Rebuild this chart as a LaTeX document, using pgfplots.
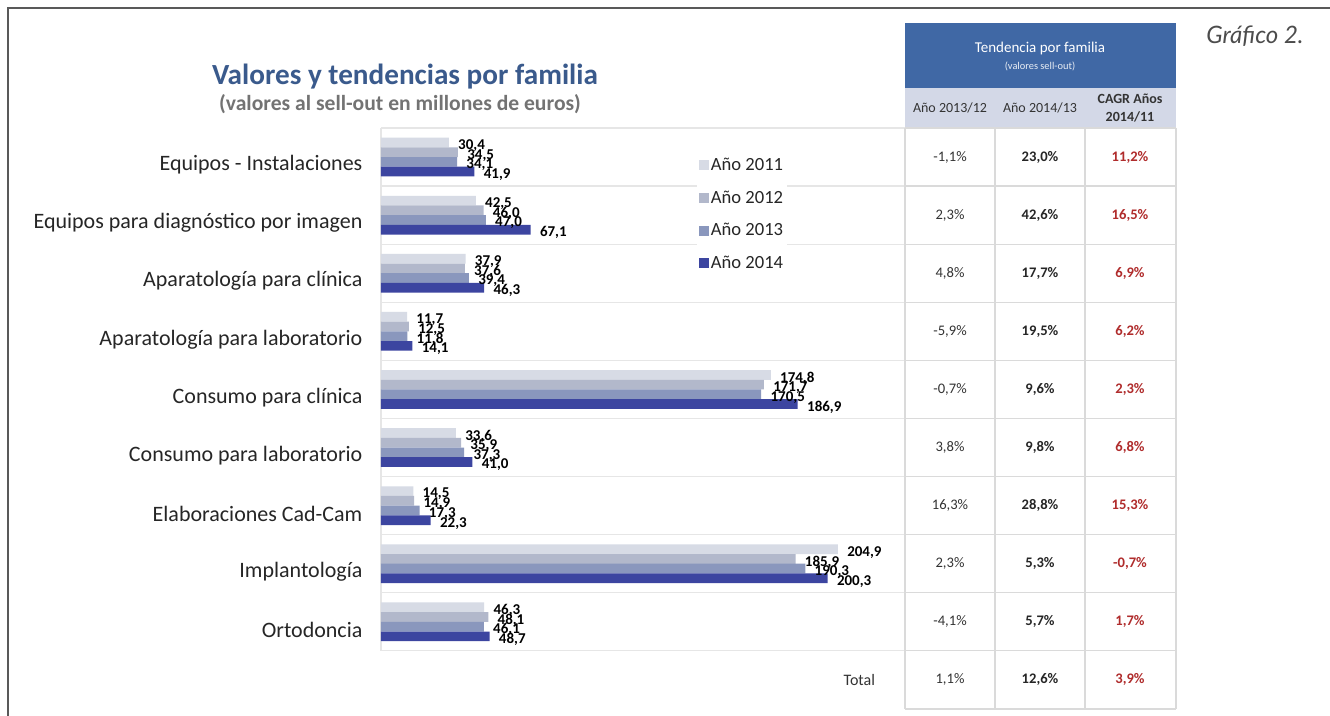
\documentclass[border=0pt]{standalone}
\usepackage{pgfplots}
\pgfplotsset{compat=1.18}
\usepackage{pgfplotstable}
\usepackage{fontspec}
\setmainfont{Carlito}
\newfontfamily\grafont{Lato}
\definecolor{c2011}{HTML}{D7DBE5}
\definecolor{c2012}{HTML}{B2B8CB}
\definecolor{c2013}{HTML}{8A97BD}
\definecolor{c2014}{HTML}{3C45A0}
\definecolor{hdrblue}{HTML}{4068A5}
\definecolor{subhdr}{HTML}{D3D8E7}
\definecolor{ttl}{HTML}{3A5A8C}
\definecolor{cagr}{HTML}{B02C2C}
\definecolor{gridc}{HTML}{DADADA}
\definecolor{sepc}{HTML}{E6E6E6}

\pgfplotstableread{
idx a2011 a2012 a2013 a2014
0 30.4 34.5 34.1 41.9
1 42.5 46.0 47.0 67.1
2 37.9 37.6 39.4 46.3
3 11.7 12.5 11.8 14.1
4 174.8 171.7 170.5 186.9
5 33.6 35.9 37.3 41.0
6 14.5 14.9 17.3 22.3
7 204.9 185.9 190.3 200.3
8 46.3 48.1 46.1 48.7
}\sales

\begin{document}
\begin{tikzpicture}[x=0.5pt,y=-0.5pt]
\useasboundingbox (0,0) rectangle (1330,716);
\fill[white] (0,0) rectangle (1330,716);
% frame
\draw[line width=0.9pt, black!65] (8,716) -- (8,8) -- (1330,8);
% titles
\node[font=\bfseries\fontsize{14.6}{16}\selectfont, text=ttl] at (405,77) {Valores y tendencias por familia};
\node[font=\bfseries\fontsize{10.8}{12}\selectfont, text=black!55] at (400,104) {(valores al sell-out en millones de euros)};
\node[font=\grafont\itshape\fontsize{12}{14}\selectfont, text=black!70] at (1255,36) {Gráfico 2.};
% separators in bar area
\foreach \k in {0,...,9} \draw[sepc, line width=0.6pt] (381,{128+58.1*\k}) -- (905,{128+58.1*\k});
\draw[sepc, line width=0.6pt] (381,128) -- (381,650.9);
% table
\fill[hdrblue] (905,23) rectangle (1176,88);
\fill[subhdr] (905,88) rectangle (1176,128);
\foreach \k in {0,...,10} \draw[gridc, line width=0.6pt] (905,{128+58.1*\k}) -- (1176,{128+58.1*\k});
\foreach \xx in {905,995,1085,1176} \draw[gridc, line width=0.6pt] (\xx,128) -- (\xx,709);
\node[font=\fontsize{7.5}{9}\selectfont, text=white] at (1040,49) {Tendencia por familia};
\node[font=\fontsize{5.2}{6}\selectfont, text=white!88!hdrblue] at (1040,66) {(valores sell-out)};
\node[font=\fontsize{7}{8}\selectfont, text=black!80] at (950,108) {Año 2013/12};
\node[font=\fontsize{7}{8}\selectfont, text=black!80] at (1040,108) {Año 2014/13};
\node[font=\bfseries\fontsize{7}{9}\selectfont, text=black!80, align=center] at (1130,108) {CAGR Años\\2014/11};
\foreach \i/\a/\b/\c in {0/{-1,1\%}/{23,0\%}/{11,2\%},
                          1/{2,3\%}/{42,6\%}/{16,5\%},
                          2/{4,8\%}/{17,7\%}/{6,9\%},
                          3/{-5,9\%}/{19,5\%}/{6,2\%},
                          4/{-0,7\%}/{9,6\%}/{2,3\%},
                          5/{3,8\%}/{9,8\%}/{6,8\%},
                          6/{16,3\%}/{28,8\%}/{15,3\%},
                          7/{2,3\%}/{5,3\%}/{-0,7\%},
                          8/{-4,1\%}/{5,7\%}/{1,7\%},
                          9/{1,1\%}/{12,6\%}/{3,9\%}} {
  \node[font=\fontsize{7.3}{9}\selectfont, text=black!80] at (950,{128+58.1*(\i+0.5)}) {\a};
  \node[font=\bfseries\fontsize{7.3}{9}\selectfont, text=black!85] at (1040,{128+58.1*(\i+0.5)}) {\b};
  \node[font=\bfseries\fontsize{7.3}{9}\selectfont, text=cagr] at (1130,{128+58.1*(\i+0.5)}) {\c};
}
\node[font=\fontsize{8}{9}\selectfont, text=black!80, anchor=east] at (882,680) {Total};
% chart
\begin{axis}[
  at={(190.5pt,-64pt)}, anchor=north west,
  scale only axis, width=262pt, height=261.45pt,
  xbar, bar shift=0pt, bar width=0.167,
  xmin=0, xmax=235, ymin=-0.5, ymax=8.5, y dir=reverse,
  axis line style={draw=none}, major tick style={draw=none},
  xtick=\empty, ytick={0,...,8},
  yticklabels={Equipos - Instalaciones, Equipos para diagnóstico por imagen, Aparatología para clínica, Aparatología para laboratorio, Consumo para clínica, Consumo para laboratorio, Elaboraciones Cad-Cam, Implantología, Ortodoncia},
  yticklabel style={font=\fontsize{11}{12}\selectfont, text=black!85, yshift=-4pt, xshift=-1.5pt},
  point meta=x,
  nodes near coords, nodes near coords align=horizontal,
  every node near coord/.append style={font=\bfseries\fontsize{7.5}{7.5}\selectfont, anchor=west, inner sep=0.5pt, xshift=4pt, yshift=-1.5pt, text=black},
  /pgf/number format/fixed, /pgf/number format/fixed zerofill, /pgf/number format/precision=1, /pgf/number format/use comma, /pgf/number format/assume math mode=true,
  clip=false,
  legend style={at={(0.602,0.954)}, anchor=north west, draw=none, fill=white, inner sep=1pt, font=\fontsize{9.3}{9.3}\selectfont, text=black!85, row sep=5.3pt, nodes={inner sep=1pt, text height=7pt, text depth=2pt}},
  legend image code/.code={\fill[#1] (0pt,-2.5pt) rectangle (5pt,2.5pt);},
  legend cell align=left,
]
\addplot[fill=c2011, draw=none] table[x=a2011, y expr=\thisrow{idx}-0.25]{\sales};
\addplot[fill=c2012, draw=none] table[x=a2012, y expr=\thisrow{idx}-0.0833]{\sales};
\addplot[fill=c2013, draw=none] table[x=a2013, y expr=\thisrow{idx}+0.0833]{\sales};
\addplot[fill=c2014, draw=none] table[x=a2014, y expr=\thisrow{idx}+0.25]{\sales};
\legend{Año 2011, Año 2012, Año 2013, Año 2014}
\end{axis}
\end{tikzpicture}
\end{document}
